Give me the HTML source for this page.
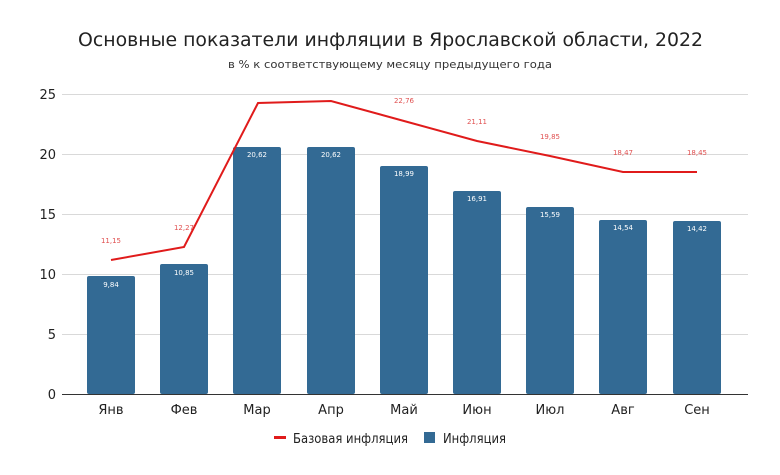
<!DOCTYPE html>
<html><head><meta charset="utf-8"><style>
body{margin:0;background:#fff;}
svg text{font-family:"DejaVu Sans","Liberation Sans",sans-serif;}
</style></head><body>
<svg width="780" height="470" viewBox="0 0 780 470" xmlns="http://www.w3.org/2000/svg">
<rect width="780" height="470" fill="#fff"/>
<text x="78" y="46" font-size="19" fill="#222" textLength="625" lengthAdjust="spacingAndGlyphs">Основные показатели инфляции в Ярославской области, 2022</text>
<text x="228" y="68" font-size="11" fill="#333" textLength="324" lengthAdjust="spacingAndGlyphs">в % к соответствующему месяцу предыдущего года</text>
<g stroke="#d9d9d9" stroke-width="1">
<line x1="62" x2="748" y1="94.5" y2="94.5"/><line x1="62" x2="748" y1="154.5" y2="154.5"/>
<line x1="62" x2="748" y1="214.5" y2="214.5"/><line x1="62" x2="748" y1="274.5" y2="274.5"/>
<line x1="62" x2="748" y1="334.5" y2="334.5"/>
</g>
<line x1="62" x2="748" y1="394.5" y2="394.5" stroke="#333"/>
<g font-size="13" fill="#222" text-anchor="end">
<text x="56" y="99">25</text><text x="56" y="159">20</text><text x="56" y="219">15</text>
<text x="56" y="279">10</text><text x="56" y="339">5</text><text x="56" y="399">0</text>
</g>
<g fill="#336a94">
<rect x="87" y="276" width="48" height="118" rx="2"/>
<rect x="160" y="264" width="48" height="130" rx="2"/>
<rect x="233" y="147" width="48" height="247" rx="2"/>
<rect x="307" y="147" width="48" height="247" rx="2"/>
<rect x="380" y="166" width="48" height="228" rx="2"/>
<rect x="453" y="191" width="48" height="203" rx="2"/>
<rect x="526" y="207" width="48" height="187" rx="2"/>
<rect x="599" y="220" width="48" height="174" rx="2"/>
<rect x="673" y="221" width="48" height="173" rx="2"/>
</g>
<g font-size="7" fill="#fff" text-anchor="middle">
<text x="111" y="287">9,84</text><text x="184" y="275">10,85</text><text x="257" y="157">20,62</text>
<text x="331" y="157">20,62</text><text x="404" y="176">18,99</text><text x="477" y="201">16,91</text>
<text x="550" y="217">15,59</text><text x="623" y="230">14,54</text><text x="697" y="231">14,42</text>
</g>
<polyline fill="none" stroke="#e01b1b" stroke-width="2" points="111,260 184,247 258,103 331,101 404,121 477,141 550,156 623,172 697,172"/>
<g font-size="7" fill="#e05050" text-anchor="middle">
<text x="111" y="243">11,15</text><text x="184" y="230">12,27</text><text x="404" y="103">22,76</text>
<text x="477" y="124">21,11</text><text x="550" y="139">19,85</text><text x="623" y="155">18,47</text><text x="697" y="155">18,45</text>
</g>
<g font-size="13" fill="#222" text-anchor="middle">
<text x="111" y="414">Янв</text><text x="184" y="414">Фев</text><text x="257" y="414">Мар</text>
<text x="331" y="414">Апр</text><text x="404" y="414">Май</text><text x="477" y="414">Июн</text>
<text x="550" y="414">Июл</text><text x="623" y="414">Авг</text><text x="697" y="414">Сен</text>
</g>
<rect x="274" y="436" width="12" height="3" fill="#e01b1b"/>
<text x="293" y="443" font-size="13" fill="#222" textLength="115" lengthAdjust="spacingAndGlyphs">Базовая инфляция</text>
<rect x="424" y="432" width="11" height="11" fill="#336a94"/>
<text x="443" y="443" font-size="13" fill="#222" textLength="63" lengthAdjust="spacingAndGlyphs">Инфляция</text>
</svg>
</body></html>
